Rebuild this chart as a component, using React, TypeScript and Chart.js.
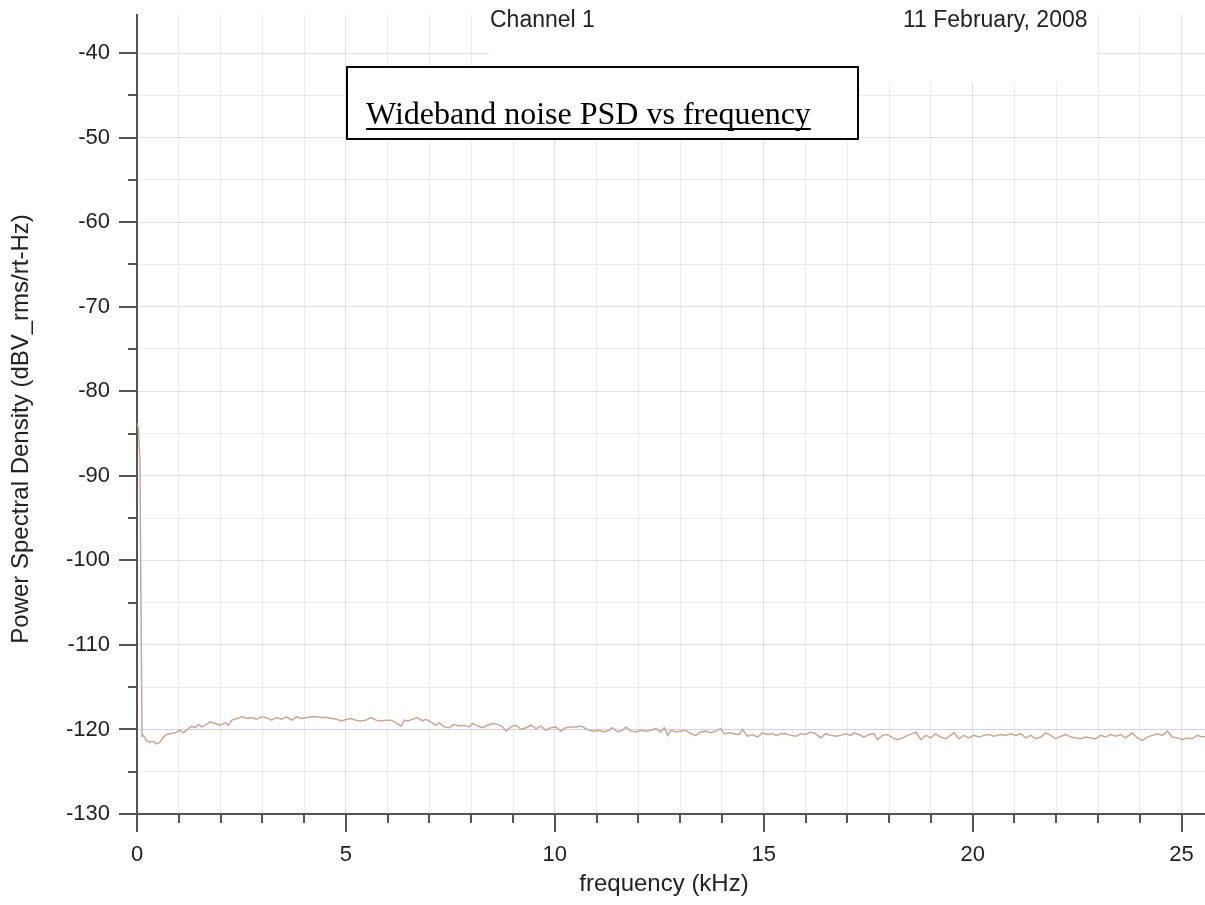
import { useEffect, useRef } from "react";
import { Chart, registerables } from "chart.js";

Chart.register(...registerables);

const headerLeft = "Channel 1";
const headerRight = "11 February, 2008";
const boxTitle = "Wideband noise PSD vs frequency";
const xTitle = "frequency (kHz)";
const yTitle = "Power Spectral Density (dBV_rms/rt-Hz)";

const freqKHz = [
  0, 0.03, 0.07, 0.1, 0.12, 0.15, 0.23, 0.31, 0.39, 0.47, 0.55,
  0.63, 0.71, 0.79, 0.91, 1.03, 1.11, 1.23, 1.31, 1.39, 1.47,
  1.55, 1.63, 1.75, 1.87, 1.99, 2.11, 2.19, 2.27, 2.39, 2.51,
  2.63, 2.74, 2.86, 2.98, 3.1, 3.22, 3.34, 3.46, 3.58, 3.7,
  3.82, 3.94, 4.06, 4.18, 4.3, 4.42, 4.54, 4.66, 4.78, 4.9,
  5.02,
  5.12, 5.24, 5.36, 5.48, 5.6, 5.72, 5.84, 5.96, 6.08, 6.2,
  6.32, 6.4, 6.48, 6.6, 6.71, 6.83, 6.91, 7.03, 7.15, 7.23,
  7.35, 7.47, 7.59, 7.71, 7.83, 7.95, 8.03, 8.15, 8.27, 8.39,
  8.51, 8.63, 8.75, 8.83, 8.95, 9.07, 9.19, 9.31, 9.43, 9.55,
  9.67, 9.78, 9.9, 10.02, 10.14,
  10.26, 10.38, 10.5, 10.62, 10.7, 10.82, 10.94, 11.06, 11.18, 11.3,
  11.38, 11.5, 11.62, 11.7, 11.82, 11.94, 12.06, 12.18, 12.3, 12.42,
  12.54, 12.62, 12.7, 12.78, 12.9, 13.01, 13.13, 13.25, 13.37, 13.49,
  13.61, 13.73, 13.85, 13.97, 14.05, 14.17, 14.29, 14.41, 14.49, 14.61,
  14.73, 14.85, 14.97, 15.09, 15.21, 15.3,
  15.41, 15.53, 15.65, 15.77, 15.89, 16.01, 16.12, 16.24, 16.36, 16.48,
  16.6, 16.72, 16.84, 16.96, 17.08, 17.16, 17.28, 17.4, 17.52, 17.64,
  17.72, 17.84, 17.96, 18.08, 18.2, 18.32, 18.44, 18.56, 18.64, 18.76,
  18.88, 19.0, 19.11, 19.23, 19.35, 19.47, 19.55, 19.67, 19.79, 19.91,
  20.03, 20.15, 20.27, 20.39,
  20.51, 20.67, 20.79, 20.91, 21.03, 21.15, 21.27, 21.39, 21.51, 21.63,
  21.75, 21.87, 21.99, 22.11, 22.23, 22.35, 22.46, 22.58, 22.7, 22.82,
  22.94, 23.06, 23.18, 23.3, 23.42, 23.54, 23.66, 23.82, 23.94, 24.06,
  24.18, 24.3, 24.42, 24.54, 24.66, 24.78, 24.9, 25.02, 25.13, 25.25,
  25.37, 25.49, 25.6,
];

const psdDbv = [
  -83.8, -84.2, -88.0, -108.0, -120.8, -120.7, -121.3, -121.5, -121.4, -121.7, -121.5,
  -120.9, -120.6, -120.5, -120.4, -120.1, -120.4, -119.9, -119.6, -119.8, -119.4,
  -119.7, -119.5, -119.1, -119.3, -119.5, -119.2, -119.5, -118.9, -118.7, -118.5,
  -118.7, -118.6, -118.8, -118.5, -118.6, -118.9, -118.6, -118.8, -118.5, -118.9,
  -118.5, -118.7, -118.6, -118.5, -118.5, -118.6, -118.6, -118.7, -118.8, -119.0,
  -118.8,
  -118.7, -118.9, -119.0, -118.9, -118.6, -118.9, -119.0, -118.9, -118.9, -119.2,
  -119.6, -118.9, -119.0, -118.8, -118.6, -119.0, -118.8, -119.1, -119.5, -119.2,
  -119.7, -119.8, -119.4, -119.6, -119.5, -119.7, -119.3, -119.6, -119.8, -119.5,
  -119.3, -119.4, -119.7, -120.2, -119.7, -119.5, -120.0, -119.8, -119.5, -119.9,
  -119.6, -120.1, -119.8, -119.7, -120.2,
  -119.8, -119.7, -119.7, -119.6, -119.8, -120.1, -120.2, -120.1, -120.3, -120.1,
  -119.8, -120.3, -120.1, -119.7, -120.2, -120.3, -120.1, -120.2, -120.1, -119.9,
  -120.3, -119.8, -120.7, -120.1, -120.3, -120.2, -120.1, -120.5, -120.7, -120.3,
  -120.2, -120.4, -120.2, -119.9, -120.5, -120.4, -120.5, -120.6, -120.0, -120.8,
  -120.6, -120.9, -120.4, -120.6, -120.5, -120.7,
  -120.5, -120.5, -120.7, -120.8, -120.5, -120.6, -120.3, -120.5, -121.0, -120.5,
  -120.7, -120.8, -120.7, -120.5, -120.7, -120.4, -120.6, -120.9, -120.6, -120.5,
  -121.2, -120.7, -120.6, -121.0, -121.2, -121.0, -120.7, -120.5, -120.3, -121.2,
  -120.7, -121.0, -120.5, -120.9, -121.1, -120.7, -120.4, -121.1, -120.7, -121.0,
  -120.7, -120.9, -120.7, -120.6,
  -120.8, -120.6, -120.7, -120.5, -120.7, -120.5, -121.0, -120.7, -121.1, -120.9,
  -120.4, -120.7, -121.1, -120.8, -120.6, -120.9, -121.0, -121.1, -120.9, -121.0,
  -121.1, -120.7, -120.9, -120.6, -120.8, -120.6, -121.0, -120.4, -121.0, -121.3,
  -120.9, -120.7, -120.5, -120.7, -120.2, -120.9, -121.0, -121.2, -121.0, -121.1,
  -120.7, -120.9, -120.8,
];

const SANS = '"Liberation Sans", Arial, Helvetica, sans-serif';
const SERIF = '"Liberation Serif", "Times New Roman", serif';

const zeroPad = (s: any) => {
  s.paddingTop = 0;
  s.paddingBottom = 0;
  s.paddingLeft = 0;
  s.paddingRight = 0;
};

const decorPlugin = {
  id: "decor",
  beforeDatasetsDraw(chart: any) {
    const ctx = chart.ctx;
    ctx.save();
    ctx.fillStyle = "#ffffff";
    ctx.fillRect(489, 0, 607, 82);
    ctx.restore();
  },
  afterDraw(chart: any) {
    const { ctx } = chart;
    const x = chart.scales.x;
    const y = chart.scales.y;
    ctx.save();
    ctx.strokeStyle = "#555555";
    ctx.lineWidth = 2;
    x.ticks.forEach((t: any) => {
      const px = Math.round(x.getPixelForValue(t.value));
      const major = t.value % 5 === 0;
      ctx.beginPath();
      ctx.moveTo(px, x.top);
      ctx.lineTo(px, x.top + (major ? 18 : 9));
      ctx.stroke();
    });
    y.ticks.forEach((t: any) => {
      const py = Math.round(y.getPixelForValue(t.value));
      const major = t.value % 10 === 0;
      ctx.beginPath();
      ctx.moveTo(y.right, py);
      ctx.lineTo(y.right - (major ? 18 : 9), py);
      ctx.stroke();
    });

    // title box
    ctx.fillStyle = "#ffffff";
    ctx.fillRect(347, 67, 511, 72);
    ctx.strokeStyle = "#000000";
    ctx.lineWidth = 2;
    ctx.strokeRect(347, 67, 511, 72);
    ctx.font = `32px ${SERIF}`;
    ctx.fillStyle = "#000000";
    ctx.textBaseline = "alphabetic";
    ctx.textAlign = "left";
    ctx.fillText(boxTitle, 366, 124);
    const w = ctx.measureText(boxTitle).width;
    ctx.fillRect(366, 128, w, 2);

    // header texts
    ctx.font = `23px ${SANS}`;
    ctx.fillStyle = "#222222";
    ctx.fillText(headerLeft, 490, 27);
    ctx.fillText(headerRight, 903, 27);

    // axis titles
    ctx.font = `24px ${SANS}`;
    ctx.fillStyle = "#222222";
    ctx.textAlign = "center";
    ctx.textBaseline = "middle";
    ctx.fillText(xTitle, 664, 884);
    ctx.translate(21, 429);
    ctx.rotate(-Math.PI / 2);
    ctx.fillText(yTitle, 0, 0);
    ctx.restore();
  },
};

export default function App() {
  const ref = useRef<HTMLCanvasElement | null>(null);

  useEffect(() => {
    document.body.style.margin = "0";
    const canvas = ref.current;
    if (!canvas) return;
    const points = freqKHz.map((f, i) => ({ x: f, y: psdDbv[i] }));
    const chart = new Chart(canvas, {
      type: "line",
      data: {
        datasets: [
          {
            data: points,
            borderColor: "#c6a898",
            borderWidth: 1.5,
            pointRadius: 0,
            tension: 0,
            fill: false,
          },
        ],
      },
      options: {
        animation: false,
        responsive: false,
        devicePixelRatio: 1,
        layout: { padding: { top: 15, left: 0, right: 0, bottom: 0 } },
        plugins: {
          legend: { display: false },
          tooltip: { enabled: false },
        },
        scales: {
          x: {
            type: "linear",
            min: 0,
            max: 25.56,
            afterFit: (s: any) => {
              s.height = 91;
              zeroPad(s);
            },
            ticks: {
              stepSize: 1,
              includeBounds: false,
              autoSkip: false,
              maxRotation: 0,
              padding: 28,
              color: "#222222",
              font: { family: SANS, size: 22 },
              callback: (v: any) => (Number(v) % 5 === 0 ? String(v) : ""),
            },
            grid: {
              drawTicks: false,
              color: (c: any) =>
                c.tick && c.tick.value % 5 === 0 ? "rgba(0,0,0,0.12)" : "rgba(0,0,0,0.07)",
              lineWidth: 1,
            },
            border: { display: true, color: "#555555", width: 2 },
            title: { display: false },
          },
          y: {
            type: "linear",
            min: -130,
            max: -35.5,
            afterFit: (s: any) => {
              s.width = 137;
              zeroPad(s);
            },
            ticks: {
              stepSize: 5,
              includeBounds: false,
              autoSkip: false,
              padding: 27,
              color: "#222222",
              font: { family: SANS, size: 22 },
              callback: (v: any) => (Number(v) % 10 === 0 ? String(v) : ""),
            },
            grid: {
              drawTicks: false,
              color: (c: any) => {
                if (!c.tick) return "rgba(0,0,0,0.07)";
                if (c.tick.value === -120) return "rgba(150,150,215,0.45)";
                return c.tick.value % 10 === 0 ? "rgba(0,0,0,0.12)" : "rgba(0,0,0,0.07)";
              },
              lineWidth: 1,
            },
            border: { display: true, color: "#555555", width: 2 },
            title: { display: false },
          },
        },
      },
      plugins: [decorPlugin],
    });
    return () => chart.destroy();
  }, []);

  return (
    <canvas
      ref={ref}
      width={1205}
      height={905}
      style={{ display: "block", width: "1205px", height: "905px" }}
    />
  );
}
